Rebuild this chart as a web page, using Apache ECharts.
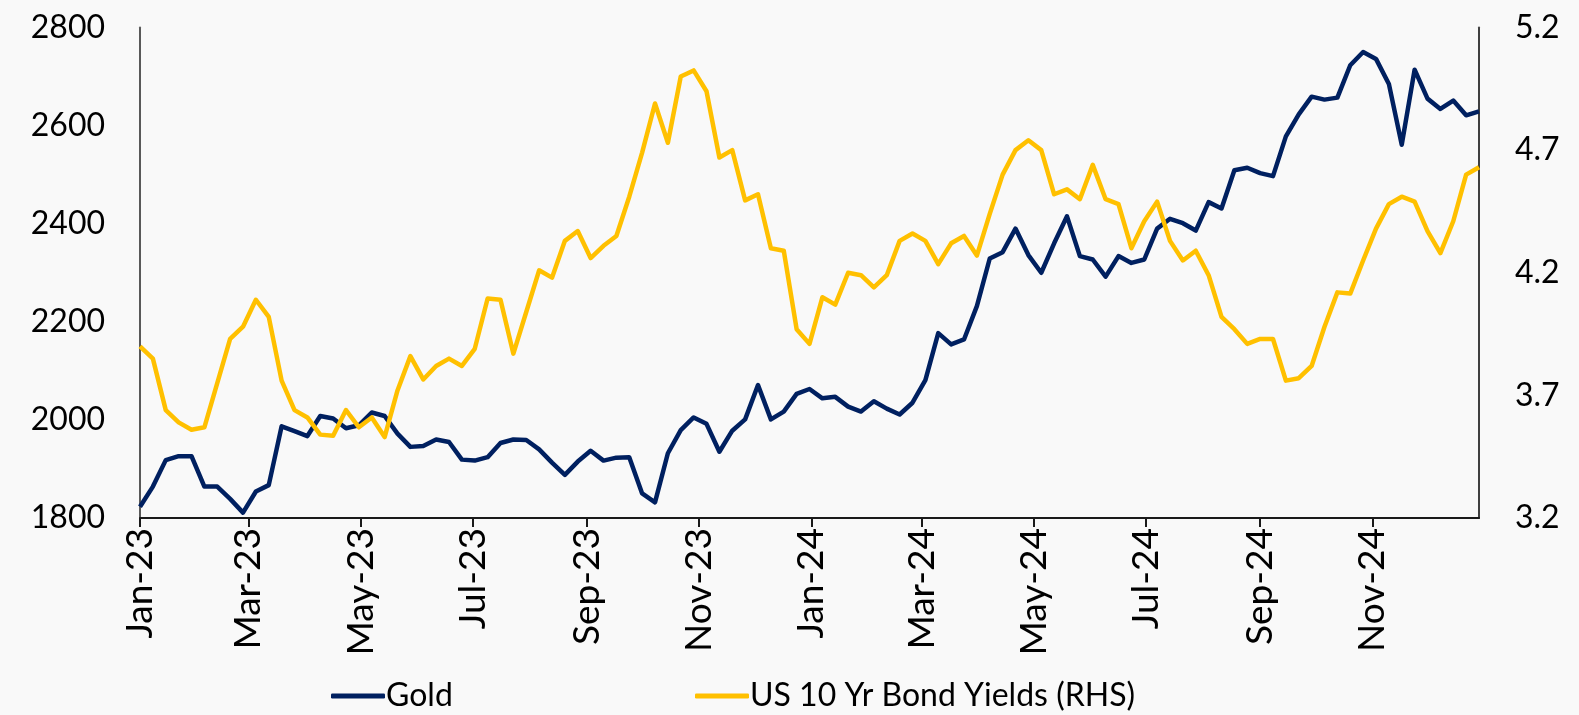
<!DOCTYPE html>
<html>
<head>
<meta charset="utf-8">
<script src="https://cdn.jsdelivr.net/npm/echarts@6/dist/echarts.min.js"></script>
<style>
html,body{margin:0;padding:0;background:#f9f9f9;}
#chart{width:1579px;height:715px;}
</style>
</head>
<body>
<div id="chart"></div>
<script>
// Weekly observations starting 1 Jan 2023
const startDate = '2023-01-01';
const seriesNames = ['Gold', 'US 10 Yr Bond Yields (RHS)'];

const gold = [
  1823, 1864, 1918, 1926, 1926, 1864, 1864, 1839, 1811, 1854,
  1867, 1987, 1977, 1967, 2008, 2003, 1983, 1989, 2015, 2008,
  1972, 1945, 1947, 1960, 1955, 1919, 1917, 1924, 1953, 1960,
  1959, 1940, 1913, 1888, 1915, 1937, 1917, 1923, 1924, 1850,
  1832, 1932, 1979, 2005, 1992, 1935, 1978, 2001, 2071, 2001,
  2017, 2053, 2063, 2044, 2047, 2027, 2017, 2038, 2023, 2011,
  2035, 2081, 2177, 2154, 2164, 2232, 2329, 2342, 2390, 2336,
  2300, 2360, 2415, 2334, 2327, 2292, 2334, 2320, 2327, 2390,
  2410, 2401, 2386, 2444, 2431, 2509, 2514, 2503, 2497, 2578,
  2623, 2659, 2653, 2657, 2723, 2750, 2736, 2685, 2561, 2714,
  2655, 2634, 2651, 2621, 2629
];

const yields = [
  3.90, 3.85, 3.64, 3.59, 3.56, 3.57, 3.75, 3.93, 3.98, 4.09,
  4.02, 3.76, 3.64, 3.61, 3.54, 3.535, 3.64, 3.57, 3.61, 3.53,
  3.72, 3.86, 3.765, 3.82, 3.85, 3.82, 3.89, 4.095, 4.09, 3.87,
  4.04, 4.21, 4.18, 4.33, 4.37, 4.26, 4.31, 4.35, 4.51, 4.69,
  4.89, 4.73, 5.00, 5.025, 4.94, 4.67, 4.70, 4.495, 4.52, 4.30,
  4.29, 3.97, 3.91, 4.10, 4.07, 4.20, 4.19, 4.14, 4.19, 4.33,
  4.36, 4.33, 4.235, 4.32, 4.35, 4.27, 4.44, 4.60, 4.70, 4.74,
  4.70, 4.52, 4.54, 4.50, 4.64, 4.50, 4.48, 4.30, 4.41, 4.49,
  4.33, 4.25, 4.29, 4.19, 4.02, 3.97, 3.91, 3.93, 3.93, 3.76,
  3.77, 3.82, 3.98, 4.12, 4.115, 4.25, 4.38, 4.48, 4.51, 4.49,
  4.37, 4.28, 4.41, 4.60, 4.63
];

const tickDates = ['2023-01-01','2023-03-01','2023-05-01','2023-07-01','2023-09-01','2023-11-01',
                   '2024-01-01','2024-03-01','2024-05-01','2024-07-01','2024-09-01','2024-11-01'];
const tickLabels = ['Jan-23','Mar-23','May-23','Jul-23','Sep-23','Nov-23',
                    'Jan-24','Mar-24','May-24','Jul-24','Sep-24','Nov-24'];
const leftTicks = [1800, 2000, 2200, 2400, 2600, 2800];
const rightTicks = [3.2, 3.7, 4.2, 4.7, 5.2];

const DAY = 86400000;
const t0 = Date.parse(startDate + 'T00:00:00Z');
const dates = gold.map((_, i) => t0 + i * 7 * DAY);
const tickTs = tickDates.map(d => Date.parse(d + 'T00:00:00Z'));
function labelFor(v) {
  for (let i = 0; i < tickTs.length; i++) {
    if (Math.abs(tickTs[i] - v) < DAY / 2) return tickLabels[i];
  }
  return '';
}

const FONT = 'Lato';
const chart = echarts.init(document.getElementById('chart'), null, {renderer: 'canvas'});
chart.setOption({
  backgroundColor: '#f9f9f9',
  animation: false,
  textStyle: {fontFamily: FONT, color: '#000'},
  grid: {left: 140, right: 100, top: 27.5, bottom: 197, outerBoundsMode: 'none', containLabel: false},
  legend: [
    {data: [seriesNames[0]], left: 326, top: 675, icon: 'roundRect', itemWidth: 54, itemHeight: 5, itemGap: 0,
     textStyle: {fontFamily: FONT, fontSize: 32, color: '#000', padding: [0, 0, 0, -4]}},
    {data: [seriesNames[1]], left: 690, top: 675, icon: 'roundRect', itemWidth: 54, itemHeight: 5, itemGap: 0,
     textStyle: {fontFamily: FONT, fontSize: 32, color: '#000', padding: [0, 0, 0, -4]}}
  ],
  xAxis: {
    type: 'value',
    min: dates[0],
    max: dates[dates.length - 1],
    splitLine: {show: false},
    axisLine: {show: true, lineStyle: {color: '#1a1a1a', width: 2}},
    axisTick: {show: true, length: 9, lineStyle: {color: '#1a1a1a', width: 2}, customValues: tickTs},
    axisLabel: {
      customValues: tickTs,
      rotate: 90, margin: 10, fontSize: 37, fontFamily: FONT, color: '#000',
      formatter: v => labelFor(v)
    }
  },
  yAxis: [
    {type: 'value', min: 1800, max: 2800, interval: 200,
     splitLine: {show: false},
     axisLine: {show: true, lineStyle: {color: '#595959', width: 2}},
     axisTick: {show: false},
     axisLabel: {customValues: leftTicks, margin: 35, fontSize: 32, fontFamily: FONT, color: '#000',
                 formatter: v => String(Math.round(v))}},
    {type: 'value', min: 3.2, max: 5.2, position: 'right',
     splitLine: {show: false},
     axisLine: {show: true, lineStyle: {color: '#404040', width: 2}},
     axisTick: {show: false},
     axisLabel: {customValues: rightTicks, margin: 36, fontSize: 32, fontFamily: FONT, color: '#000',
                 formatter: v => Number(v).toFixed(1)}}
  ],
  series: [
    {name: seriesNames[0], type: 'line', yAxisIndex: 0, showSymbol: false, symbol: 'none',
     color: '#002060', lineStyle: {width: 4.5, color: '#002060', join: 'round'},
     data: dates.map((d, i) => [d, gold[i]])},
    {name: seriesNames[1], type: 'line', yAxisIndex: 1, showSymbol: false, symbol: 'none',
     color: '#FFC000', lineStyle: {width: 4.5, color: '#FFC000', join: 'round'},
     data: dates.map((d, i) => [d, yields[i]])}
  ]
});
</script>
</body>
</html>
